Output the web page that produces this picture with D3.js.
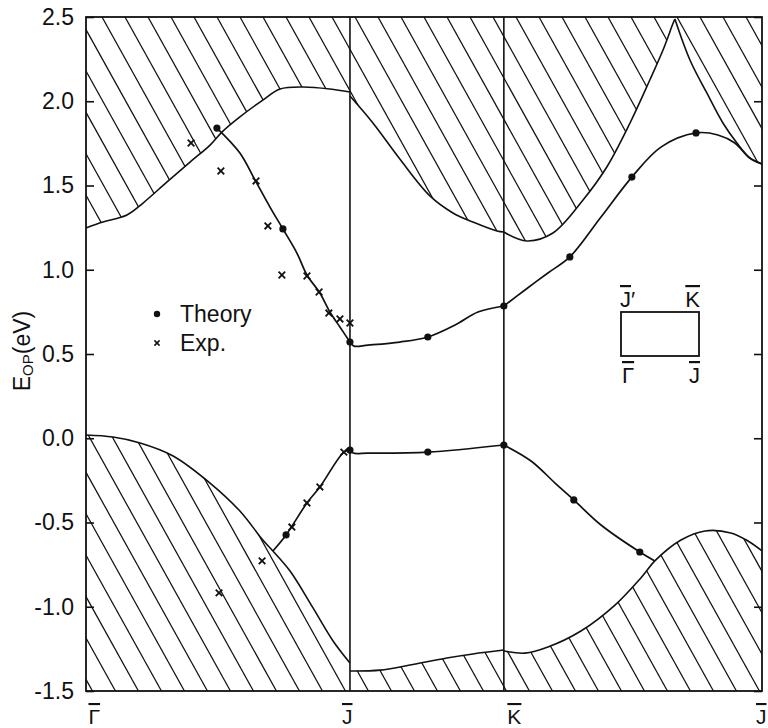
<!DOCTYPE html>
<html>
<head>
<meta charset="utf-8">
<script src="https://cdn.jsdelivr.net/npm/d3@7"></script>
<style>
  body { margin: 0; background: #fff; }
  text { font-family: "Liberation Sans", Arial, Helvetica, sans-serif; fill: #111; }
</style>
</head>
<body>
<svg id="chart" width="768" height="728"></svg>
<script>
// k-path positions of the symmetry points (units of |Γ̄J̄|)
const symmetryPoints = [0, 1, 1.583, 2.561];
const symmetryLabels = ["Γ", "J", "K", "J"];
const yTicks = [2.5, 2.0, 1.5, 1.0, 0.5, 0.0, -0.5, -1.0, -1.5];
const yTickLabels = ["2.5", "2.0", "1.5", "1.0", "0.5", "0.0", "-0.5", "-1.0", "-1.5"];

// projected bulk band edges [k, E]
const upperEdgeGJ = [[0,1.248],[0.064,1.283],[0.155,1.325],[0.216,1.396],[0.307,1.521],[0.394,1.639],[0.470,1.740],[0.515,1.817],[0.583,1.907],[0.670,2.007],[0.735,2.073],[0.822,2.085],[0.924,2.073],[1.0,2.055]];
const upperEdgeJK = [[1.0,2.031],[1.087,1.871],[1.189,1.657],[1.303,1.438],[1.390,1.337],[1.466,1.283],[1.557,1.230],[1.583,1.224]];
const upperEdgeKJRise = [[1.583,1.224],[1.670,1.171],[1.769,1.218],[1.883,1.414],[1.973,1.610],[2.061,1.871],[2.136,2.126],[2.186,2.304],[2.223,2.458],[2.231,2.488]];
const upperEdgeKJFall = [[2.231,2.488],[2.288,2.245],[2.352,2.049],[2.413,1.871],[2.466,1.752],[2.515,1.663],[2.561,1.628]];
const lowerEdgeGJ = [[0,0.019],[0.102,0.007],[0.205,-0.028],[0.330,-0.105],[0.470,-0.266],[0.583,-0.432],[0.670,-0.604],[0.708,-0.669],[0.773,-0.788],[0.860,-1.007],[0.936,-1.203],[1.0,-1.334]];
const lowerEdgeJK = [[1.0,-1.381],[1.114,-1.376],[1.227,-1.346],[1.367,-1.304],[1.466,-1.280],[1.583,-1.257]];
const lowerEdgeKJ = [[1.583,-1.263],[1.663,-1.275],[1.750,-1.239],[1.875,-1.144],[2.004,-0.990],[2.102,-0.829],[2.155,-0.728],[2.254,-0.604],[2.345,-0.550],[2.443,-0.562],[2.508,-0.610],[2.561,-0.669]];

// calculated surface-state bands [k, E]
const theoryUpperGJ = [[0.496,1.841],[0.583,1.693],[0.640,1.533],[0.697,1.372],[0.746,1.242],[0.799,1.099],[0.837,0.969],[0.886,0.862],[0.924,0.749],[0.962,0.660],[1.0,0.571]];
const theoryUpperJK = [[1.0,0.571],[1.015,0.547],[1.068,0.553],[1.189,0.571],[1.295,0.601],[1.398,0.672],[1.485,0.749],[1.583,0.785]];
const theoryUpperKJ = [[1.583,0.785],[1.663,0.880],[1.750,0.981],[1.833,1.076],[1.951,1.313],[2.068,1.550],[2.178,1.728],[2.311,1.812],[2.394,1.800],[2.458,1.752],[2.515,1.663],[2.561,1.628]];
const theoryLowerGJ = [[0.708,-0.669],[0.758,-0.574],[0.837,-0.384],[0.886,-0.289],[0.977,-0.082],[1.0,-0.070]];
const theoryLowerJK = [[1.0,-0.070],[1.012,-0.088],[1.068,-0.088],[1.295,-0.082],[1.583,-0.040]];
const theoryLowerKJ = [[1.583,-0.040],[1.686,-0.135],[1.777,-0.266],[1.848,-0.366],[1.951,-0.515],[2.098,-0.675],[2.155,-0.728]];

// calculated k-points (dots) and measured points (crosses)
const theoryPoints = [[0.496,1.841],[0.746,1.242],[1.0,0.571],[0.758,-0.574],[1.0,-0.070],[1.295,0.601],[1.583,0.785],[1.295,-0.082],[1.583,-0.040],[1.833,1.076],[2.068,1.550],[2.311,1.812],[1.848,-0.366],[2.098,-0.675]];
const expPoints = [[0.398,1.752],[0.511,1.586],[0.644,1.527],[0.689,1.260],[0.742,0.969],[0.837,0.963],[0.883,0.868],[0.920,0.743],[0.962,0.708],[1.0,0.684],[0.504,-0.918],[0.667,-0.728],[0.780,-0.527],[0.837,-0.384],[0.886,-0.289],[0.977,-0.082]];

const svg = d3.select("#chart");
const plotL = 86, plotR = 762, plotT = 17, plotB = 691;
const x = d3.scaleLinear().domain([0, 2.561]).range([plotL, plotR]);
const y = d3.scaleLinear().domain([-1.5, 2.5]).range([plotB, plotT]);

const curve = d3.curveCatmullRom.alpha(0.5);
const line = d3.line().x(d => x(d[0])).y(d => y(d[1])).curve(curve);
const areaAbove = d3.area().x(d => x(d[0])).y0(y(2.5)).y1(d => y(d[1])).curve(curve);
const areaBelow = d3.area().x(d => x(d[0])).y0(y(-1.5)).y1(d => y(d[1])).curve(curve);

// hatched continuum regions (conduction side above, valence side below)
const defs = svg.append("defs");
const clipUp = defs.append("clipPath").attr("id", "bulkUp");
[upperEdgeGJ, upperEdgeJK, upperEdgeKJRise, upperEdgeKJFall].forEach(e => clipUp.append("path").attr("d", areaAbove(e)));
const clipDn = defs.append("clipPath").attr("id", "bulkDn");
[lowerEdgeGJ, lowerEdgeJK, lowerEdgeKJ].forEach(e => clipDn.append("path").attr("d", areaBelow(e)));

const hatchStep = 23, hatchSlope = 1.8;
function hatchInto(id, phase) {
  const g = svg.append("g").attr("clip-path", `url(#${id})`)
    .attr("stroke", "#111").attr("stroke-width", 1.25);
  const run = (plotB - plotT) / hatchSlope;
  for (let n = -20; n < 50; n++) {
    const xt = phase + n * hatchStep;
    g.append("line").attr("x1", xt).attr("y1", plotT).attr("x2", xt + run).attr("y2", plotB);
  }
}
hatchInto("bulkUp", 10);
hatchInto("bulkDn", 17);

// band edges
const edges = svg.append("g").attr("fill", "none").attr("stroke", "#111").attr("stroke-width", 1.6);
[upperEdgeGJ, upperEdgeJK, upperEdgeKJRise, upperEdgeKJFall, lowerEdgeGJ, lowerEdgeJK, lowerEdgeKJ]
  .forEach(e => edges.append("path").attr("d", line(e)));

// symmetry-point verticals
svg.append("g").selectAll("line").data(symmetryPoints.slice(1, 3)).join("line")
  .attr("x1", d => x(d)).attr("x2", d => x(d)).attr("y1", plotT).attr("y2", plotB)
  .attr("stroke", "#111").attr("stroke-width", 1.6);

// surface states
const bands = svg.append("g").attr("fill", "none").attr("stroke", "#111").attr("stroke-width", 1.7);
[theoryUpperGJ, theoryUpperJK, theoryUpperKJ, theoryLowerGJ, theoryLowerJK, theoryLowerKJ]
  .forEach(b => bands.append("path").attr("d", line(b)));

svg.append("g").selectAll("circle").data(theoryPoints).join("circle")
  .attr("cx", d => x(d[0])).attr("cy", d => y(d[1])).attr("r", 3.6).attr("fill", "#111");

const cross = (g, cx, cy, s) => {
  g.append("line").attr("x1", cx - s).attr("y1", cy - s).attr("x2", cx + s).attr("y2", cy + s);
  g.append("line").attr("x1", cx - s).attr("y1", cy + s).attr("x2", cx + s).attr("y2", cy - s);
};
const crosses = svg.append("g").attr("stroke", "#111").attr("stroke-width", 1.8);
expPoints.forEach(d => cross(crosses, x(d[0]), y(d[1]), 3.3));

// frame and axes
svg.append("rect").attr("x", plotL).attr("y", plotT).attr("width", plotR - plotL).attr("height", plotB - plotT)
  .attr("fill", "none").attr("stroke", "#111").attr("stroke-width", 1.8);

const yAxis = svg.append("g").attr("transform", `translate(${plotL},0)`)
  .call(d3.axisLeft(y).tickValues(yTicks).tickSize(-8).tickPadding(12)
    .tickFormat((d, i) => yTickLabels[i]));
yAxis.select(".domain").remove();
yAxis.selectAll(".tick line").attr("stroke", "#111").attr("stroke-width", 1.6);
yAxis.selectAll(".tick text").attr("font-size", 23).attr("font-family", null).attr("fill", "#111");

const yAxisR = svg.append("g").attr("transform", `translate(${plotR},0)`)
  .call(d3.axisRight(y).tickValues(yTicks).tickSize(-8).tickFormat(""));
yAxisR.select(".domain").remove();
yAxisR.selectAll(".tick line").attr("stroke", "#111").attr("stroke-width", 1.6);

const xAxis = svg.append("g").attr("transform", `translate(0,${plotB})`)
  .call(d3.axisBottom(x).tickValues(symmetryPoints).tickSize(0).tickPadding(0)
    .tickFormat((d, i) => symmetryLabels[i]));
xAxis.select(".domain").remove();
const anchors = ["start", "end", "start", "end"];
const nudges = [2, 2, 3, 4];
xAxis.selectAll(".tick text")
  .attr("font-size", 21).attr("font-family", null).attr("fill", "#111")
  .attr("y", 33).attr("dy", 0)
  .attr("x", (d, i) => nudges[i])
  .attr("text-anchor", (d, i) => anchors[i])
  .style("text-decoration", "overline");

// y label
const yl = svg.append("text").attr("transform", "translate(30,351) rotate(-90)")
  .attr("text-anchor", "middle").attr("font-size", 23);
yl.append("tspan").text("E");
yl.append("tspan").attr("font-size", 15).attr("dy", 3).text("OP");
yl.append("tspan").attr("dy", -3).text("(eV)");

// legend
svg.append("circle").attr("cx", 157).attr("cy", 314).attr("r", 3.2).attr("fill", "#111");
svg.append("text").attr("x", 180).attr("y", 322).attr("font-size", 23).text("Theory");
const lg = svg.append("g").attr("stroke", "#111").attr("stroke-width", 1.5);
cross(lg, 157, 343, 2.6);
svg.append("text").attr("x", 180).attr("y", 351).attr("font-size", 23).text("Exp.");

// surface Brillouin zone sketch
svg.append("rect").attr("x", 621).attr("y", 312).attr("width", 78).attr("height", 44)
  .attr("fill", "none").attr("stroke", "#111").attr("stroke-width", 1.8);
const bz = svg.append("g").attr("font-size", 22);
const jp = bz.append("text").attr("x", 620).attr("y", 307);
jp.append("tspan").style("text-decoration", "overline").text("J");
jp.append("tspan").text("′");
bz.append("text").attr("x", 700).attr("y", 307).attr("text-anchor", "end").style("text-decoration", "overline").text("K");
bz.append("text").attr("x", 622).attr("y", 383).style("text-decoration", "overline").text("Γ");
bz.append("text").attr("x", 700).attr("y", 383).attr("text-anchor", "end").style("text-decoration", "overline").text("J");
</script>
</body>
</html>
